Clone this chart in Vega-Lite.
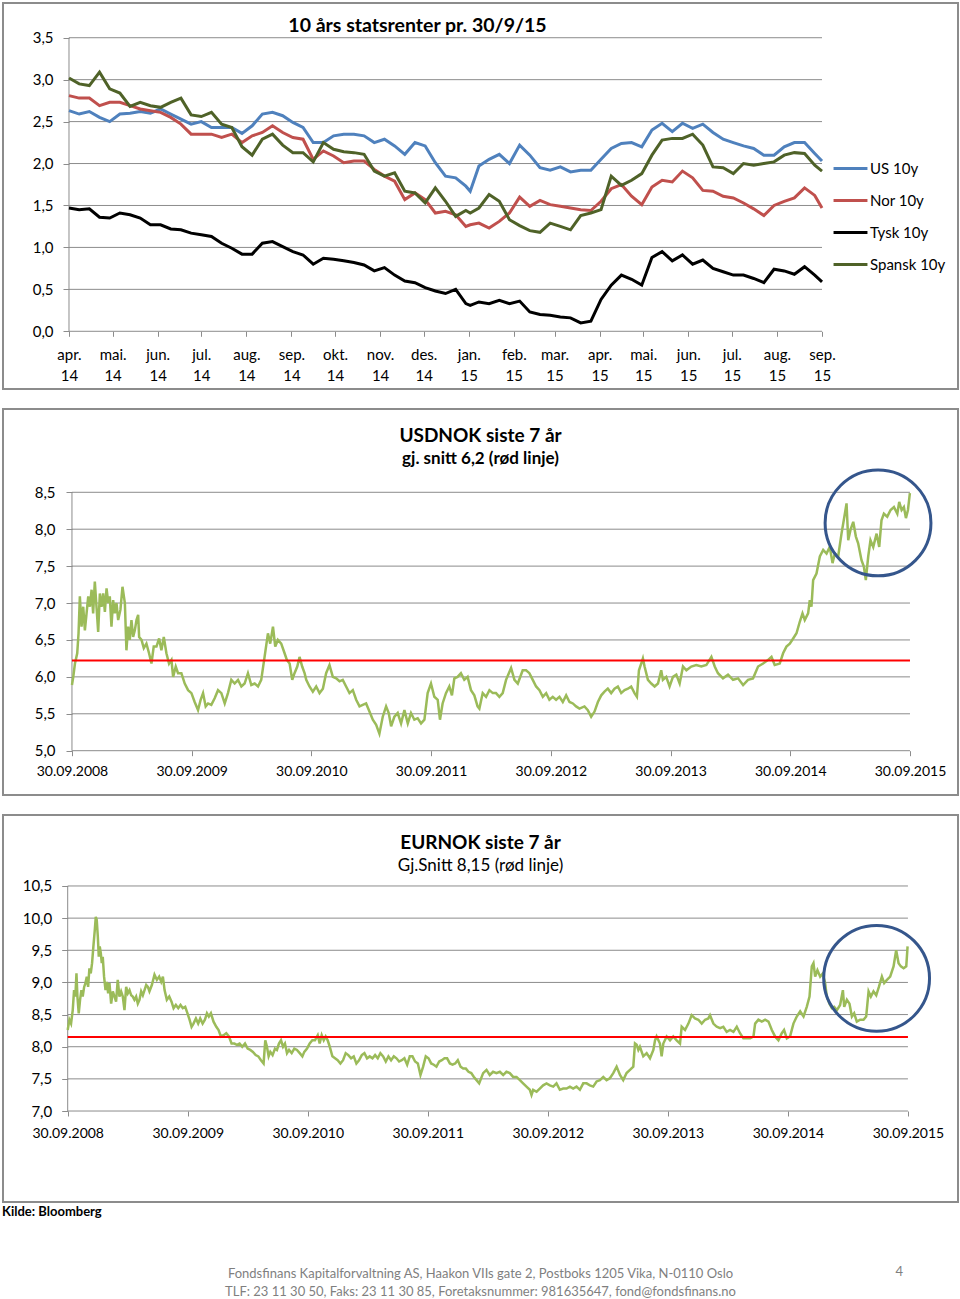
{
"$schema": "https://vega.github.io/schema/vega-lite/v6.json",
"background": "#ffffff",
"padding": {"left": 2, "top": 2, "right": 0, "bottom": 0},
"config": {
  "font": "Lato",
  "view": {"stroke": "#8c8c8c", "strokeWidth": 2},
  "axis": {"labelFont": "Lato", "labelColor": "#000000", "tickColor": "#8c8c8c", "domain": false, "grid": false},
  "legend": {"labelFont": "Lato", "labelColor": "#000000"}
},
"title": {"text": "4", "orient": "bottom", "anchor": "end", "offset": -33, "dx": -56, "fontSize": 13, "fontWeight": "normal", "color": "#7f7f7f", "font": "Lato"},
"vconcat": [{
  "title": {"text": ["Fondsfinans Kapitalforvaltning AS, Haakon VIIs gate 2, Postboks 1205 Vika, N-0110 Oslo", "TLF: 23 11 30 50, Faks: 23 11 30 85, Foretaksnummer: 981635647, fond@fondsfinans.no"], "orient": "bottom", "anchor": "middle", "offset": 49, "fontSize": 13, "fontWeight": "normal", "color": "#7f7f7f", "lineHeight": 18, "font": "Lato"},
  "vconcat": [{
    "title": {"text": "Kilde: Bloomberg", "orient": "bottom", "anchor": "start", "offset": 3, "fontSize": 13, "fontWeight": "bold", "color": "#000000", "font": "Lato"},
    "spacing": 18,
    "vconcat": [
{
  "width": 955, "height": 386,
  "title": {"text": "10 års statsrenter  pr. 30/9/15", "frame": "group", "anchor": "middle", "offset": -33, "dx": -63, "fontSize": 19.5, "fontWeight": "bold", "color": "#000000", "font": "Lato"},
  "layer": [
    {
      "data": {"values": [{"g": 0}, {"g": 0.5}, {"g": 1}, {"g": 1.5}, {"g": 2}, {"g": 2.5}, {"g": 3}, {"g": 3.5}]},
      "mark": {"type": "rule", "color": "#8c8c8c", "strokeWidth": 1},
      "encoding": {
        "y": {"field": "g", "type": "quantitative", "scale": {"domain": [-0.688, 3.914], "nice": false, "zero": false}},
        "x": {"datum": {"year": 2014, "month": 4, "date": 1, "utc": true}, "type": "temporal",
              "scale": {"type": "utc", "domain": [{"year": 2014, "month": 2, "date": 14, "hours": 14, "minutes": 24, "utc": true}, {"year": 2015, "month": 12, "date": 3, "hours": 13, "minutes": 12, "utc": true}], "nice": false}},
        "x2": {"datum": {"year": 2015, "month": 9, "date": 1, "utc": true}}
      }
    },
    {
      "data": {"values": [{"lo": 0, "hi": 3.5}]},
      "mark": {"type": "rule", "color": "#8c8c8c", "strokeWidth": 1},
      "encoding": {
        "x": {"datum": {"year": 2014, "month": 4, "date": 1, "utc": true}, "type": "temporal"},
        "y": {"field": "lo", "type": "quantitative"},
        "y2": {"field": "hi"}
      }
    },
    {
      "data": {"values": [
        {"d": "2014-04-01", "US 10y": 2.63, "Nor 10y": 2.81, "Tysk 10y": 1.47, "Spansk 10y": 3.02},
        {"d": "2014-04-08", "US 10y": 2.59, "Nor 10y": 2.78, "Tysk 10y": 1.45, "Spansk 10y": 2.95},
        {"d": "2014-04-15", "US 10y": 2.62, "Nor 10y": 2.78, "Tysk 10y": 1.46, "Spansk 10y": 2.93},
        {"d": "2014-04-22", "US 10y": 2.55, "Nor 10y": 2.69, "Tysk 10y": 1.36, "Spansk 10y": 3.09},
        {"d": "2014-04-29", "US 10y": 2.50, "Nor 10y": 2.73, "Tysk 10y": 1.35, "Spansk 10y": 2.89},
        {"d": "2014-05-06", "US 10y": 2.59, "Nor 10y": 2.73, "Tysk 10y": 1.41, "Spansk 10y": 2.84},
        {"d": "2014-05-13", "US 10y": 2.60, "Nor 10y": 2.69, "Tysk 10y": 1.39, "Spansk 10y": 2.68},
        {"d": "2014-05-20", "US 10y": 2.62, "Nor 10y": 2.65, "Tysk 10y": 1.35, "Spansk 10y": 2.73},
        {"d": "2014-05-27", "US 10y": 2.60, "Nor 10y": 2.63, "Tysk 10y": 1.27, "Spansk 10y": 2.69},
        {"d": "2014-06-03", "US 10y": 2.65, "Nor 10y": 2.61, "Tysk 10y": 1.27, "Spansk 10y": 2.67},
        {"d": "2014-06-10", "US 10y": 2.59, "Nor 10y": 2.55, "Tysk 10y": 1.22, "Spansk 10y": 2.73},
        {"d": "2014-06-17", "US 10y": 2.53, "Nor 10y": 2.47, "Tysk 10y": 1.21, "Spansk 10y": 2.78},
        {"d": "2014-06-24", "US 10y": 2.47, "Nor 10y": 2.35, "Tysk 10y": 1.17, "Spansk 10y": 2.58},
        {"d": "2014-07-01", "US 10y": 2.50, "Nor 10y": 2.35, "Tysk 10y": 1.15, "Spansk 10y": 2.56},
        {"d": "2014-07-08", "US 10y": 2.43, "Nor 10y": 2.35, "Tysk 10y": 1.13, "Spansk 10y": 2.61},
        {"d": "2014-07-15", "US 10y": 2.43, "Nor 10y": 2.31, "Tysk 10y": 1.05, "Spansk 10y": 2.47},
        {"d": "2014-07-22", "US 10y": 2.43, "Nor 10y": 2.35, "Tysk 10y": 0.99, "Spansk 10y": 2.43},
        {"d": "2014-07-29", "US 10y": 2.36, "Nor 10y": 2.25, "Tysk 10y": 0.92, "Spansk 10y": 2.20},
        {"d": "2014-08-05", "US 10y": 2.45, "Nor 10y": 2.33, "Tysk 10y": 0.92, "Spansk 10y": 2.10},
        {"d": "2014-08-12", "US 10y": 2.59, "Nor 10y": 2.37, "Tysk 10y": 1.05, "Spansk 10y": 2.29},
        {"d": "2014-08-19", "US 10y": 2.61, "Nor 10y": 2.45, "Tysk 10y": 1.07, "Spansk 10y": 2.35},
        {"d": "2014-08-26", "US 10y": 2.57, "Nor 10y": 2.37, "Tysk 10y": 1.01, "Spansk 10y": 2.22},
        {"d": "2014-09-02", "US 10y": 2.49, "Nor 10y": 2.31, "Tysk 10y": 0.95, "Spansk 10y": 2.13},
        {"d": "2014-09-09", "US 10y": 2.43, "Nor 10y": 2.29, "Tysk 10y": 0.91, "Spansk 10y": 2.13},
        {"d": "2014-09-16", "US 10y": 2.25, "Nor 10y": 2.05, "Tysk 10y": 0.80, "Spansk 10y": 2.02},
        {"d": "2014-09-23", "US 10y": 2.25, "Nor 10y": 2.15, "Tysk 10y": 0.87, "Spansk 10y": 2.25},
        {"d": "2014-09-30", "US 10y": 2.33, "Nor 10y": 2.09, "Tysk 10y": 0.86, "Spansk 10y": 2.17},
        {"d": "2014-10-07", "US 10y": 2.35, "Nor 10y": 2.01, "Tysk 10y": 0.84, "Spansk 10y": 2.14},
        {"d": "2014-10-14", "US 10y": 2.35, "Nor 10y": 2.03, "Tysk 10y": 0.82, "Spansk 10y": 2.13},
        {"d": "2014-10-21", "US 10y": 2.33, "Nor 10y": 2.03, "Tysk 10y": 0.79, "Spansk 10y": 2.11},
        {"d": "2014-10-28", "US 10y": 2.25, "Nor 10y": 1.93, "Tysk 10y": 0.72, "Spansk 10y": 1.91},
        {"d": "2014-11-04", "US 10y": 2.29, "Nor 10y": 1.85, "Tysk 10y": 0.76, "Spansk 10y": 1.85},
        {"d": "2014-11-11", "US 10y": 2.21, "Nor 10y": 1.79, "Tysk 10y": 0.67, "Spansk 10y": 1.89},
        {"d": "2014-11-18", "US 10y": 2.11, "Nor 10y": 1.57, "Tysk 10y": 0.60, "Spansk 10y": 1.67},
        {"d": "2014-11-25", "US 10y": 2.25, "Nor 10y": 1.65, "Tysk 10y": 0.58, "Spansk 10y": 1.65},
        {"d": "2014-12-02", "US 10y": 2.21, "Nor 10y": 1.57, "Tysk 10y": 0.52, "Spansk 10y": 1.53},
        {"d": "2014-12-09", "US 10y": 2.01, "Nor 10y": 1.41, "Tysk 10y": 0.48, "Spansk 10y": 1.71},
        {"d": "2014-12-16", "US 10y": 1.85, "Nor 10y": 1.43, "Tysk 10y": 0.45, "Spansk 10y": 1.55},
        {"d": "2014-12-23", "US 10y": 1.83, "Nor 10y": 1.39, "Tysk 10y": 0.50, "Spansk 10y": 1.37},
        {"d": "2014-12-30", "US 10y": 1.73, "Nor 10y": 1.25, "Tysk 10y": 0.33, "Spansk 10y": 1.44},
        {"d": "2015-01-02", "US 10y": 1.67, "Nor 10y": 1.27, "Tysk 10y": 0.31, "Spansk 10y": 1.41},
        {"d": "2015-01-08", "US 10y": 1.97, "Nor 10y": 1.29, "Tysk 10y": 0.35, "Spansk 10y": 1.47},
        {"d": "2015-01-15", "US 10y": 2.05, "Nor 10y": 1.23, "Tysk 10y": 0.33, "Spansk 10y": 1.63},
        {"d": "2015-01-22", "US 10y": 2.11, "Nor 10y": 1.31, "Tysk 10y": 0.37, "Spansk 10y": 1.55},
        {"d": "2015-01-29", "US 10y": 2.00, "Nor 10y": 1.41, "Tysk 10y": 0.33, "Spansk 10y": 1.33},
        {"d": "2015-02-05", "US 10y": 2.22, "Nor 10y": 1.60, "Tysk 10y": 0.36, "Spansk 10y": 1.26},
        {"d": "2015-02-12", "US 10y": 2.10, "Nor 10y": 1.49, "Tysk 10y": 0.23, "Spansk 10y": 1.20},
        {"d": "2015-02-19", "US 10y": 1.95, "Nor 10y": 1.56, "Tysk 10y": 0.20, "Spansk 10y": 1.18},
        {"d": "2015-02-26", "US 10y": 1.92, "Nor 10y": 1.51, "Tysk 10y": 0.19, "Spansk 10y": 1.29},
        {"d": "2015-03-05", "US 10y": 1.96, "Nor 10y": 1.49, "Tysk 10y": 0.17, "Spansk 10y": 1.25},
        {"d": "2015-03-12", "US 10y": 1.90, "Nor 10y": 1.47, "Tysk 10y": 0.16, "Spansk 10y": 1.21},
        {"d": "2015-03-19", "US 10y": 1.92, "Nor 10y": 1.45, "Tysk 10y": 0.10, "Spansk 10y": 1.38},
        {"d": "2015-03-26", "US 10y": 1.92, "Nor 10y": 1.44, "Tysk 10y": 0.12, "Spansk 10y": 1.41},
        {"d": "2015-04-02", "US 10y": 2.05, "Nor 10y": 1.55, "Tysk 10y": 0.38, "Spansk 10y": 1.45},
        {"d": "2015-04-09", "US 10y": 2.18, "Nor 10y": 1.70, "Tysk 10y": 0.55, "Spansk 10y": 1.85},
        {"d": "2015-04-16", "US 10y": 2.24, "Nor 10y": 1.75, "Tysk 10y": 0.67, "Spansk 10y": 1.74},
        {"d": "2015-04-23", "US 10y": 2.25, "Nor 10y": 1.61, "Tysk 10y": 0.62, "Spansk 10y": 1.80},
        {"d": "2015-04-30", "US 10y": 2.20, "Nor 10y": 1.51, "Tysk 10y": 0.55, "Spansk 10y": 1.88},
        {"d": "2015-05-07", "US 10y": 2.40, "Nor 10y": 1.72, "Tysk 10y": 0.88, "Spansk 10y": 2.10},
        {"d": "2015-05-14", "US 10y": 2.48, "Nor 10y": 1.80, "Tysk 10y": 0.95, "Spansk 10y": 2.28},
        {"d": "2015-05-21", "US 10y": 2.38, "Nor 10y": 1.78, "Tysk 10y": 0.84, "Spansk 10y": 2.30},
        {"d": "2015-05-28", "US 10y": 2.48, "Nor 10y": 1.91, "Tysk 10y": 0.91, "Spansk 10y": 2.30},
        {"d": "2015-06-04", "US 10y": 2.42, "Nor 10y": 1.83, "Tysk 10y": 0.80, "Spansk 10y": 2.35},
        {"d": "2015-06-11", "US 10y": 2.47, "Nor 10y": 1.68, "Tysk 10y": 0.85, "Spansk 10y": 2.22},
        {"d": "2015-06-18", "US 10y": 2.37, "Nor 10y": 1.67, "Tysk 10y": 0.75, "Spansk 10y": 1.96},
        {"d": "2015-06-25", "US 10y": 2.29, "Nor 10y": 1.61, "Tysk 10y": 0.71, "Spansk 10y": 1.95},
        {"d": "2015-07-02", "US 10y": 2.25, "Nor 10y": 1.59, "Tysk 10y": 0.67, "Spansk 10y": 1.88},
        {"d": "2015-07-09", "US 10y": 2.21, "Nor 10y": 1.53, "Tysk 10y": 0.67, "Spansk 10y": 2.00},
        {"d": "2015-07-16", "US 10y": 2.18, "Nor 10y": 1.46, "Tysk 10y": 0.63, "Spansk 10y": 1.98},
        {"d": "2015-07-23", "US 10y": 2.10, "Nor 10y": 1.38, "Tysk 10y": 0.58, "Spansk 10y": 2.00},
        {"d": "2015-07-30", "US 10y": 2.10, "Nor 10y": 1.50, "Tysk 10y": 0.74, "Spansk 10y": 2.02},
        {"d": "2015-08-06", "US 10y": 2.20, "Nor 10y": 1.55, "Tysk 10y": 0.72, "Spansk 10y": 2.10},
        {"d": "2015-08-13", "US 10y": 2.25, "Nor 10y": 1.59, "Tysk 10y": 0.68, "Spansk 10y": 2.13},
        {"d": "2015-08-20", "US 10y": 2.25, "Nor 10y": 1.71, "Tysk 10y": 0.77, "Spansk 10y": 2.12},
        {"d": "2015-08-27", "US 10y": 2.12, "Nor 10y": 1.62, "Tysk 10y": 0.67, "Spansk 10y": 1.98},
        {"d": "2015-09-01", "US 10y": 2.03, "Nor 10y": 1.47, "Tysk 10y": 0.59, "Spansk 10y": 1.91}
      ]},
      "transform": [{"fold": ["US 10y", "Nor 10y", "Tysk 10y", "Spansk 10y"], "as": ["serie", "rente"]}],
      "mark": {"type": "line", "strokeWidth": 3},
      "encoding": {
        "x": {"field": "d", "type": "temporal",
              "axis": {"title": null, "offset": -57.7, "tickSize": 5, "labelPadding": 11, "labelFontSize": 15, "labelLineHeight": 21, "labelOverlap": false, "labelFlush": false,
                       "values": [{"year": 2014, "month": 4, "date": 1, "utc": true}, {"year": 2014, "month": 5, "date": 1, "utc": true}, {"year": 2014, "month": 6, "date": 1, "utc": true}, {"year": 2014, "month": 7, "date": 1, "utc": true}, {"year": 2014, "month": 8, "date": 1, "utc": true}, {"year": 2014, "month": 9, "date": 1, "utc": true}, {"year": 2014, "month": 10, "date": 1, "utc": true}, {"year": 2014, "month": 11, "date": 1, "utc": true}, {"year": 2014, "month": 12, "date": 1, "utc": true}, {"year": 2015, "month": 1, "date": 1, "utc": true}, {"year": 2015, "month": 2, "date": 1, "utc": true}, {"year": 2015, "month": 3, "date": 1, "utc": true}, {"year": 2015, "month": 4, "date": 1, "utc": true}, {"year": 2015, "month": 5, "date": 1, "utc": true}, {"year": 2015, "month": 6, "date": 1, "utc": true}, {"year": 2015, "month": 7, "date": 1, "utc": true}, {"year": 2015, "month": 8, "date": 1, "utc": true}, {"year": 2015, "month": 9, "date": 1, "utc": true}],
                       "labelExpr": "[['jan.','feb.','mar.','apr.','mai.','jun.','jul.','aug.','sep.','okt.','nov.','des.'][utcmonth(datum.value)], utcFormat(datum.value, '%y')]"}},
        "y": {"field": "rente", "type": "quantitative",
              "axis": {"title": null, "values": [0, 0.5, 1, 1.5, 2, 2.5, 3, 3.5], "labelExpr": "replace(format(datum.value, '.1f'), '.', ',')", "offset": -66, "tickSize": 6, "labelPadding": 10, "labelFontSize": 15}},
        "color": {"field": "serie", "type": "nominal",
                  "scale": {"domain": ["US 10y", "Nor 10y", "Tysk 10y", "Spansk 10y"], "range": ["#4F81BD", "#C0504D", "#000000", "#4F6228"]},
                  "legend": {"orient": "none", "legendX": 829, "legendY": 147, "title": null, "symbolType": "stroke", "symbolStrokeWidth": 3, "symbolSize": 1150, "labelFontSize": 15, "labelOffset": 1, "rowPadding": 5}}
      }
    }
  ]
},
{
  "width": 955, "height": 386,
  "title": {"text": "USDNOK siste 7 år", "subtitle": "gj. snitt 6,2 (rød linje)", "frame": "group", "anchor": "middle", "offset": -58, "fontSize": 19, "fontWeight": "bold", "color": "#000000", "font": "Lato", "subtitleFont": "Lato", "subtitleFontSize": 17, "subtitleFontWeight": "bold", "subtitleColor": "#000000", "subtitlePadding": 5},
  "layer": [
    {
      "data": {"values": [{"g": 5}, {"g": 5.5}, {"g": 6}, {"g": 6.5}, {"g": 7}, {"g": 7.5}, {"g": 8}, {"g": 8.5}]},
      "mark": {"type": "rule", "color": "#8c8c8c", "strokeWidth": 1},
      "encoding": {
        "y": {"field": "g", "type": "quantitative", "scale": {"domain": [4.4, 9.628], "nice": false, "zero": false}},
        "x": {"datum": 2008.747, "type": "quantitative", "scale": {"domain": [2008.171, 2016.148], "nice": false, "zero": false}},
        "x2": {"datum": 2015.747}
      }
    },
    {
      "data": {"values": [{"lo": 5, "hi": 8.5}]},
      "mark": {"type": "rule", "color": "#8c8c8c", "strokeWidth": 1},
      "encoding": {
        "x": {"datum": 2008.747, "type": "quantitative"},
        "y": {"field": "lo", "type": "quantitative"},
        "y2": {"field": "hi"}
      }
    },
    {
      "data": {"values": [{"t":2008.747,"v":5.89},{"t":2008.758,"v":6.0},{"t":2008.772,"v":6.18},{"t":2008.791,"v":6.32},{"t":2008.802,"v":6.59},{"t":2008.813,"v":7.09},{"t":2008.827,"v":6.68},{"t":2008.841,"v":6.95},{"t":2008.855,"v":6.63},{"t":2008.869,"v":6.86},{"t":2008.883,"v":7.09},{"t":2008.897,"v":6.95},{"t":2008.911,"v":7.18},{"t":2008.924,"v":6.86},{"t":2008.938,"v":7.29},{"t":2008.952,"v":6.95},{"t":2008.966,"v":6.61},{"t":2008.98,"v":7.13},{"t":2008.994,"v":6.95},{"t":2009.008,"v":7.13},{"t":2009.022,"v":6.88},{"t":2009.036,"v":7.2},{"t":2009.05,"v":7.0},{"t":2009.063,"v":7.09},{"t":2009.077,"v":6.68},{"t":2009.091,"v":7.04},{"t":2009.105,"v":6.86},{"t":2009.119,"v":7.0},{"t":2009.133,"v":6.77},{"t":2009.152,"v":6.91},{"t":2009.169,"v":7.22},{"t":2009.189,"v":7.0},{"t":2009.202,"v":6.36},{"t":2009.216,"v":6.68},{"t":2009.23,"v":6.5},{"t":2009.244,"v":6.77},{"t":2009.258,"v":6.54},{"t":2009.272,"v":6.63},{"t":2009.286,"v":6.77},{"t":2009.3,"v":6.84},{"t":2009.308,"v":6.54},{"t":2009.328,"v":6.5},{"t":2009.347,"v":6.39},{"t":2009.369,"v":6.45},{"t":2009.391,"v":6.32},{"t":2009.411,"v":6.18},{"t":2009.43,"v":6.41},{"t":2009.453,"v":6.41},{"t":2009.475,"v":6.52},{"t":2009.494,"v":6.36},{"t":2009.514,"v":6.54},{"t":2009.536,"v":6.32},{"t":2009.558,"v":6.18},{"t":2009.578,"v":6.23},{"t":2009.592,"v":6.0},{"t":2009.614,"v":6.14},{"t":2009.633,"v":6.05},{"t":2009.661,"v":6.05},{"t":2009.689,"v":5.91},{"t":2009.717,"v":5.82},{"t":2009.745,"v":5.78},{"t":2009.772,"v":5.66},{"t":2009.8,"v":5.55},{"t":2009.822,"v":5.69},{"t":2009.842,"v":5.78},{"t":2009.864,"v":5.6},{"t":2009.884,"v":5.64},{"t":2009.911,"v":5.62},{"t":2009.939,"v":5.71},{"t":2009.967,"v":5.82},{"t":2009.995,"v":5.78},{"t":2010.023,"v":5.64},{"t":2010.05,"v":5.78},{"t":2010.078,"v":5.96},{"t":2010.106,"v":5.91},{"t":2010.134,"v":5.96},{"t":2010.162,"v":5.87},{"t":2010.189,"v":5.91},{"t":2010.217,"v":6.05},{"t":2010.245,"v":5.89},{"t":2010.273,"v":5.91},{"t":2010.301,"v":5.87},{"t":2010.328,"v":5.96},{"t":2010.356,"v":6.27},{"t":2010.384,"v":6.59},{"t":2010.403,"v":6.45},{"t":2010.426,"v":6.68},{"t":2010.445,"v":6.41},{"t":2010.467,"v":6.5},{"t":2010.495,"v":6.45},{"t":2010.523,"v":6.32},{"t":2010.542,"v":6.23},{"t":2010.565,"v":6.18},{"t":2010.587,"v":5.96},{"t":2010.606,"v":6.05},{"t":2010.629,"v":6.14},{"t":2010.648,"v":6.27},{"t":2010.67,"v":6.14},{"t":2010.69,"v":6.05},{"t":2010.704,"v":5.96},{"t":2010.731,"v":5.87},{"t":2010.759,"v":5.8},{"t":2010.787,"v":5.87},{"t":2010.815,"v":5.78},{"t":2010.843,"v":5.84},{"t":2010.87,"v":6.05},{"t":2010.898,"v":6.16},{"t":2010.926,"v":6.0},{"t":2010.954,"v":5.98},{"t":2010.982,"v":5.94},{"t":2011.009,"v":5.96},{"t":2011.037,"v":5.87},{"t":2011.065,"v":5.78},{"t":2011.093,"v":5.82},{"t":2011.121,"v":5.69},{"t":2011.149,"v":5.6},{"t":2011.176,"v":5.62},{"t":2011.204,"v":5.64},{"t":2011.232,"v":5.53},{"t":2011.26,"v":5.42},{"t":2011.288,"v":5.35},{"t":2011.315,"v":5.23},{"t":2011.343,"v":5.46},{"t":2011.371,"v":5.6},{"t":2011.393,"v":5.51},{"t":2011.413,"v":5.33},{"t":2011.44,"v":5.46},{"t":2011.468,"v":5.51},{"t":2011.496,"v":5.37},{"t":2011.524,"v":5.55},{"t":2011.552,"v":5.37},{"t":2011.579,"v":5.51},{"t":2011.607,"v":5.42},{"t":2011.635,"v":5.44},{"t":2011.663,"v":5.37},{"t":2011.691,"v":5.42},{"t":2011.718,"v":5.78},{"t":2011.746,"v":5.91},{"t":2011.774,"v":5.73},{"t":2011.802,"v":5.69},{"t":2011.821,"v":5.42},{"t":2011.843,"v":5.64},{"t":2011.871,"v":5.78},{"t":2011.899,"v":5.87},{"t":2011.921,"v":5.75},{"t":2011.941,"v":5.98},{"t":2011.968,"v":6.0},{"t":2011.996,"v":6.05},{"t":2012.024,"v":5.96},{"t":2012.052,"v":6.0},{"t":2012.08,"v":5.82},{"t":2012.108,"v":5.75},{"t":2012.135,"v":5.6},{"t":2012.15,"v":5.57},{"t":2012.178,"v":5.78},{"t":2012.206,"v":5.73},{"t":2012.234,"v":5.82},{"t":2012.262,"v":5.78},{"t":2012.289,"v":5.78},{"t":2012.317,"v":5.73},{"t":2012.345,"v":5.78},{"t":2012.373,"v":5.96},{"t":2012.415,"v":6.12},{"t":2012.443,"v":5.96},{"t":2012.471,"v":5.91},{"t":2012.512,"v":6.09},{"t":2012.54,"v":6.09},{"t":2012.568,"v":6.05},{"t":2012.596,"v":5.96},{"t":2012.624,"v":5.87},{"t":2012.652,"v":5.82},{"t":2012.68,"v":5.73},{"t":2012.708,"v":5.78},{"t":2012.735,"v":5.69},{"t":2012.763,"v":5.73},{"t":2012.791,"v":5.69},{"t":2012.819,"v":5.73},{"t":2012.847,"v":5.66},{"t":2012.875,"v":5.75},{"t":2012.903,"v":5.66},{"t":2012.931,"v":5.64},{"t":2012.958,"v":5.6},{"t":2012.986,"v":5.57},{"t":2013.028,"v":5.6},{"t":2013.056,"v":5.55},{"t":2013.084,"v":5.46},{"t":2013.112,"v":5.53},{"t":2013.14,"v":5.66},{"t":2013.168,"v":5.75},{"t":2013.195,"v":5.8},{"t":2013.223,"v":5.84},{"t":2013.251,"v":5.78},{"t":2013.279,"v":5.84},{"t":2013.307,"v":5.87},{"t":2013.335,"v":5.78},{"t":2013.363,"v":5.82},{"t":2013.391,"v":5.84},{"t":2013.418,"v":5.87},{"t":2013.446,"v":5.78},{"t":2013.466,"v":5.73},{"t":2013.483,"v":6.09},{"t":2013.502,"v":6.18},{"t":2013.516,"v":6.25},{"t":2013.53,"v":6.14},{"t":2013.558,"v":5.96},{"t":2013.586,"v":5.91},{"t":2013.614,"v":5.87},{"t":2013.642,"v":5.91},{"t":2013.669,"v":6.09},{"t":2013.683,"v":5.96},{"t":2013.711,"v":6.0},{"t":2013.739,"v":5.87},{"t":2013.767,"v":6.0},{"t":2013.795,"v":6.03},{"t":2013.823,"v":5.91},{"t":2013.851,"v":6.14},{"t":2013.879,"v":6.09},{"t":2013.92,"v":6.14},{"t":2013.962,"v":6.16},{"t":2014.004,"v":6.14},{"t":2014.046,"v":6.16},{"t":2014.088,"v":6.27},{"t":2014.116,"v":6.14},{"t":2014.143,"v":6.05},{"t":2014.185,"v":5.98},{"t":2014.227,"v":6.03},{"t":2014.269,"v":5.96},{"t":2014.311,"v":5.98},{"t":2014.353,"v":5.89},{"t":2014.394,"v":5.96},{"t":2014.436,"v":5.98},{"t":2014.478,"v":6.14},{"t":2014.52,"v":6.18},{"t":2014.562,"v":6.23},{"t":2014.59,"v":6.27},{"t":2014.617,"v":6.16},{"t":2014.659,"v":6.18},{"t":2014.687,"v":6.32},{"t":2014.715,"v":6.41},{"t":2014.743,"v":6.45},{"t":2014.771,"v":6.52},{"t":2014.799,"v":6.59},{"t":2014.827,"v":6.75},{"t":2014.849,"v":6.86},{"t":2014.868,"v":6.77},{"t":2014.896,"v":6.86},{"t":2014.91,"v":7.04},{"t":2014.924,"v":6.95},{"t":2014.938,"v":7.31},{"t":2014.966,"v":7.4},{"t":2014.994,"v":7.63},{"t":2015.022,"v":7.72},{"t":2015.05,"v":7.67},{"t":2015.077,"v":7.76},{"t":2015.1,"v":7.54},{"t":2015.119,"v":7.67},{"t":2015.147,"v":7.63},{"t":2015.175,"v":7.94},{"t":2015.203,"v":8.21},{"t":2015.217,"v":8.35},{"t":2015.231,"v":7.85},{"t":2015.25,"v":7.99},{"t":2015.273,"v":8.1},{"t":2015.295,"v":7.9},{"t":2015.314,"v":7.81},{"t":2015.342,"v":7.58},{"t":2015.362,"v":7.49},{"t":2015.378,"v":7.31},{"t":2015.398,"v":7.63},{"t":2015.417,"v":7.85},{"t":2015.44,"v":7.76},{"t":2015.468,"v":7.94},{"t":2015.49,"v":7.76},{"t":2015.509,"v":8.12},{"t":2015.529,"v":8.21},{"t":2015.557,"v":8.17},{"t":2015.585,"v":8.26},{"t":2015.613,"v":8.3},{"t":2015.641,"v":8.21},{"t":2015.657,"v":8.37},{"t":2015.677,"v":8.26},{"t":2015.696,"v":8.3},{"t":2015.713,"v":8.15},{"t":2015.73,"v":8.26},{"t":2015.746,"v":8.49}]},
      "mark": {"type": "line", "color": "#9BBB59", "strokeWidth": 2.5},
      "encoding": {
        "x": {"field": "t", "type": "quantitative",
              "axis": {"title": null, "values": [2008.747, 2009.747, 2010.747, 2011.747, 2012.747, 2013.747, 2014.747, 2015.747], "labelExpr": "'30.09.' + floor(datum.value)", "offset": -44.3, "tickSize": 5, "labelPadding": 9, "labelFontSize": 14, "labelOverlap": false, "labelFlush": false}},
        "y": {"field": "v", "type": "quantitative",
              "axis": {"title": null, "values": [5, 5.5, 6, 6.5, 7, 7.5, 8, 8.5], "labelExpr": "replace(format(datum.value, '.1f'), '.', ',')", "offset": -69, "tickSize": 6, "labelPadding": 11, "labelFontSize": 15}}
      }
    },
    {
      "data": {"values": [{"snitt": 6.22}]},
      "mark": {"type": "rule", "color": "#FF0000", "strokeWidth": 2},
      "encoding": {
        "y": {"field": "snitt", "type": "quantitative"},
        "x": {"datum": 2008.747, "type": "quantitative"},
        "x2": {"datum": 2015.747}
      }
    },
    {
      "data": {"values": [{"t": 2015.48, "v": 8.085}]},
      "mark": {"type": "point", "shape": "circle", "filled": false, "size": 11200, "stroke": "#35568C", "strokeWidth": 3, "opacity": 1},
      "encoding": {
        "x": {"field": "t", "type": "quantitative"},
        "y": {"field": "v", "type": "quantitative"}
      }
    }
  ]
},
{
  "width": 955, "height": 387,
  "title": {"text": "EURNOK siste 7 år", "subtitle": "Gj.Snitt 8,15 (rød linje)", "frame": "group", "anchor": "middle", "offset": -59, "fontSize": 19, "fontWeight": "bold", "color": "#000000", "font": "Lato", "subtitleFont": "Lato", "subtitleFontSize": 17, "subtitleFontWeight": "normal", "subtitleColor": "#000000", "subtitlePadding": 5},
  "layer": [
    {
      "data": {"values": [{"g": 7}, {"g": 7.5}, {"g": 8}, {"g": 8.5}, {"g": 9}, {"g": 9.5}, {"g": 10}, {"g": 10.5}]},
      "mark": {"type": "rule", "color": "#8c8c8c", "strokeWidth": 1},
      "encoding": {
        "y": {"field": "g", "type": "quantitative", "scale": {"domain": [5.585, 11.604], "nice": false, "zero": false}},
        "x": {"datum": 2008.747, "type": "quantitative", "scale": {"domain": [2008.208, 2016.164], "nice": false, "zero": false}},
        "x2": {"datum": 2015.747}
      }
    },
    {
      "data": {"values": [{"lo": 7, "hi": 10.5}]},
      "mark": {"type": "rule", "color": "#8c8c8c", "strokeWidth": 1},
      "encoding": {
        "x": {"datum": 2008.747, "type": "quantitative"},
        "y": {"field": "lo", "type": "quantitative"},
        "y2": {"field": "hi"}
      }
    },
    {
      "data": {"values": [{"t":2008.747,"v":8.26},{"t":2008.761,"v":8.42},{"t":2008.775,"v":8.36},{"t":2008.789,"v":8.57},{"t":2008.8,"v":8.88},{"t":2008.811,"v":8.78},{"t":2008.82,"v":9.14},{"t":2008.828,"v":8.78},{"t":2008.839,"v":8.52},{"t":2008.85,"v":8.73},{"t":2008.861,"v":8.88},{"t":2008.872,"v":8.78},{"t":2008.884,"v":8.93},{"t":2008.895,"v":8.99},{"t":2008.906,"v":9.09},{"t":2008.917,"v":8.93},{"t":2008.928,"v":9.22},{"t":2008.939,"v":9.14},{"t":2008.95,"v":9.3},{"t":2008.961,"v":9.56},{"t":2008.973,"v":9.82},{"t":2008.981,"v":10.02},{"t":2008.989,"v":9.97},{"t":2008.998,"v":9.71},{"t":2009.006,"v":9.4},{"t":2009.014,"v":9.56},{"t":2009.023,"v":9.45},{"t":2009.031,"v":9.3},{"t":2009.039,"v":9.4},{"t":2009.05,"v":9.09},{"t":2009.062,"v":8.88},{"t":2009.073,"v":9.01},{"t":2009.084,"v":8.83},{"t":2009.095,"v":8.99},{"t":2009.109,"v":8.67},{"t":2009.123,"v":8.86},{"t":2009.137,"v":8.78},{"t":2009.15,"v":8.7},{"t":2009.164,"v":9.04},{"t":2009.178,"v":8.78},{"t":2009.192,"v":8.86},{"t":2009.206,"v":8.78},{"t":2009.22,"v":8.57},{"t":2009.234,"v":8.93},{"t":2009.248,"v":8.83},{"t":2009.262,"v":8.88},{"t":2009.276,"v":8.8},{"t":2009.289,"v":8.78},{"t":2009.303,"v":8.73},{"t":2009.317,"v":8.78},{"t":2009.331,"v":8.67},{"t":2009.345,"v":8.73},{"t":2009.359,"v":8.86},{"t":2009.373,"v":8.8},{"t":2009.387,"v":8.88},{"t":2009.401,"v":8.96},{"t":2009.415,"v":8.93},{"t":2009.428,"v":8.86},{"t":2009.448,"v":8.96},{"t":2009.47,"v":9.12},{"t":2009.49,"v":9.04},{"t":2009.509,"v":9.09},{"t":2009.526,"v":9.01},{"t":2009.54,"v":9.09},{"t":2009.554,"v":8.88},{"t":2009.573,"v":8.73},{"t":2009.593,"v":8.78},{"t":2009.612,"v":8.7},{"t":2009.629,"v":8.6},{"t":2009.648,"v":8.65},{"t":2009.668,"v":8.6},{"t":2009.687,"v":8.65},{"t":2009.706,"v":8.6},{"t":2009.726,"v":8.62},{"t":2009.745,"v":8.52},{"t":2009.762,"v":8.42},{"t":2009.779,"v":8.31},{"t":2009.795,"v":8.36},{"t":2009.815,"v":8.44},{"t":2009.834,"v":8.36},{"t":2009.851,"v":8.44},{"t":2009.871,"v":8.36},{"t":2009.89,"v":8.42},{"t":2009.907,"v":8.52},{"t":2009.923,"v":8.47},{"t":2009.94,"v":8.52},{"t":2009.962,"v":8.39},{"t":2009.985,"v":8.31},{"t":2010.004,"v":8.26},{"t":2010.023,"v":8.16},{"t":2010.046,"v":8.18},{"t":2010.068,"v":8.21},{"t":2010.09,"v":8.16},{"t":2010.112,"v":8.05},{"t":2010.135,"v":8.05},{"t":2010.157,"v":8.03},{"t":2010.179,"v":8.05},{"t":2010.201,"v":8.0},{"t":2010.224,"v":8.05},{"t":2010.246,"v":7.97},{"t":2010.268,"v":7.95},{"t":2010.29,"v":7.92},{"t":2010.313,"v":7.87},{"t":2010.335,"v":7.85},{"t":2010.357,"v":7.79},{"t":2010.379,"v":7.74},{"t":2010.393,"v":8.1},{"t":2010.407,"v":8.0},{"t":2010.421,"v":7.85},{"t":2010.435,"v":7.92},{"t":2010.454,"v":7.87},{"t":2010.474,"v":7.97},{"t":2010.49,"v":7.95},{"t":2010.507,"v":8.05},{"t":2010.524,"v":8.1},{"t":2010.541,"v":8.0},{"t":2010.557,"v":8.05},{"t":2010.574,"v":7.9},{"t":2010.591,"v":7.95},{"t":2010.613,"v":7.9},{"t":2010.635,"v":7.97},{"t":2010.657,"v":7.95},{"t":2010.68,"v":7.9},{"t":2010.702,"v":7.85},{"t":2010.718,"v":7.92},{"t":2010.741,"v":7.97},{"t":2010.763,"v":8.05},{"t":2010.785,"v":8.1},{"t":2010.807,"v":8.1},{"t":2010.83,"v":8.18},{"t":2010.846,"v":8.05},{"t":2010.863,"v":8.18},{"t":2010.88,"v":8.1},{"t":2010.896,"v":8.16},{"t":2010.913,"v":8.1},{"t":2010.93,"v":8.0},{"t":2010.952,"v":7.85},{"t":2010.974,"v":7.82},{"t":2010.996,"v":7.79},{"t":2011.019,"v":7.74},{"t":2011.041,"v":7.79},{"t":2011.063,"v":7.9},{"t":2011.085,"v":7.87},{"t":2011.108,"v":7.82},{"t":2011.13,"v":7.85},{"t":2011.152,"v":7.74},{"t":2011.174,"v":7.79},{"t":2011.197,"v":7.87},{"t":2011.219,"v":7.9},{"t":2011.241,"v":7.82},{"t":2011.263,"v":7.85},{"t":2011.286,"v":7.82},{"t":2011.308,"v":7.87},{"t":2011.33,"v":7.82},{"t":2011.352,"v":7.9},{"t":2011.375,"v":7.85},{"t":2011.397,"v":7.77},{"t":2011.419,"v":7.85},{"t":2011.441,"v":7.79},{"t":2011.464,"v":7.85},{"t":2011.486,"v":7.82},{"t":2011.508,"v":7.77},{"t":2011.53,"v":7.79},{"t":2011.552,"v":7.82},{"t":2011.575,"v":7.72},{"t":2011.597,"v":7.85},{"t":2011.619,"v":7.85},{"t":2011.641,"v":7.77},{"t":2011.664,"v":7.74},{"t":2011.686,"v":7.56},{"t":2011.708,"v":7.69},{"t":2011.73,"v":7.85},{"t":2011.753,"v":7.82},{"t":2011.775,"v":7.74},{"t":2011.797,"v":7.72},{"t":2011.819,"v":7.69},{"t":2011.842,"v":7.77},{"t":2011.864,"v":7.79},{"t":2011.886,"v":7.82},{"t":2011.908,"v":7.82},{"t":2011.931,"v":7.74},{"t":2011.953,"v":7.72},{"t":2011.975,"v":7.74},{"t":2011.997,"v":7.79},{"t":2012.02,"v":7.69},{"t":2012.042,"v":7.66},{"t":2012.064,"v":7.66},{"t":2012.086,"v":7.61},{"t":2012.109,"v":7.59},{"t":2012.131,"v":7.53},{"t":2012.153,"v":7.48},{"t":2012.175,"v":7.43},{"t":2012.208,"v":7.59},{"t":2012.236,"v":7.64},{"t":2012.263,"v":7.56},{"t":2012.291,"v":7.61},{"t":2012.319,"v":7.59},{"t":2012.347,"v":7.61},{"t":2012.375,"v":7.56},{"t":2012.402,"v":7.61},{"t":2012.43,"v":7.59},{"t":2012.458,"v":7.53},{"t":2012.486,"v":7.53},{"t":2012.514,"v":7.48},{"t":2012.541,"v":7.43},{"t":2012.569,"v":7.38},{"t":2012.597,"v":7.33},{"t":2012.611,"v":7.25},{"t":2012.625,"v":7.33},{"t":2012.653,"v":7.3},{"t":2012.68,"v":7.35},{"t":2012.708,"v":7.4},{"t":2012.736,"v":7.43},{"t":2012.764,"v":7.4},{"t":2012.792,"v":7.38},{"t":2012.819,"v":7.43},{"t":2012.847,"v":7.33},{"t":2012.875,"v":7.35},{"t":2012.903,"v":7.35},{"t":2012.931,"v":7.38},{"t":2012.958,"v":7.35},{"t":2012.986,"v":7.38},{"t":2013.014,"v":7.33},{"t":2013.042,"v":7.43},{"t":2013.07,"v":7.43},{"t":2013.097,"v":7.4},{"t":2013.125,"v":7.38},{"t":2013.153,"v":7.46},{"t":2013.181,"v":7.48},{"t":2013.209,"v":7.53},{"t":2013.236,"v":7.48},{"t":2013.264,"v":7.51},{"t":2013.292,"v":7.59},{"t":2013.32,"v":7.69},{"t":2013.348,"v":7.56},{"t":2013.375,"v":7.48},{"t":2013.403,"v":7.59},{"t":2013.431,"v":7.64},{"t":2013.459,"v":7.69},{"t":2013.473,"v":8.05},{"t":2013.487,"v":8.03},{"t":2013.501,"v":7.95},{"t":2013.514,"v":8.0},{"t":2013.542,"v":7.85},{"t":2013.57,"v":7.9},{"t":2013.598,"v":7.82},{"t":2013.626,"v":7.95},{"t":2013.64,"v":8.1},{"t":2013.653,"v":8.16},{"t":2013.681,"v":8.05},{"t":2013.695,"v":7.85},{"t":2013.709,"v":8.05},{"t":2013.737,"v":8.16},{"t":2013.765,"v":8.1},{"t":2013.792,"v":8.16},{"t":2013.82,"v":8.1},{"t":2013.848,"v":8.05},{"t":2013.862,"v":8.31},{"t":2013.89,"v":8.26},{"t":2013.918,"v":8.36},{"t":2013.945,"v":8.49},{"t":2013.973,"v":8.44},{"t":2014.001,"v":8.42},{"t":2014.029,"v":8.36},{"t":2014.057,"v":8.42},{"t":2014.084,"v":8.44},{"t":2014.098,"v":8.49},{"t":2014.126,"v":8.36},{"t":2014.154,"v":8.31},{"t":2014.182,"v":8.29},{"t":2014.209,"v":8.31},{"t":2014.237,"v":8.23},{"t":2014.265,"v":8.26},{"t":2014.293,"v":8.23},{"t":2014.321,"v":8.31},{"t":2014.348,"v":8.21},{"t":2014.376,"v":8.13},{"t":2014.404,"v":8.13},{"t":2014.432,"v":8.13},{"t":2014.46,"v":8.16},{"t":2014.474,"v":8.36},{"t":2014.501,"v":8.42},{"t":2014.529,"v":8.39},{"t":2014.557,"v":8.42},{"t":2014.585,"v":8.39},{"t":2014.613,"v":8.26},{"t":2014.64,"v":8.16},{"t":2014.668,"v":8.1},{"t":2014.696,"v":8.21},{"t":2014.715,"v":8.26},{"t":2014.738,"v":8.13},{"t":2014.765,"v":8.16},{"t":2014.793,"v":8.36},{"t":2014.821,"v":8.47},{"t":2014.849,"v":8.55},{"t":2014.877,"v":8.47},{"t":2014.904,"v":8.62},{"t":2014.927,"v":8.78},{"t":2014.946,"v":9.25},{"t":2014.96,"v":9.3},{"t":2014.974,"v":9.09},{"t":2014.993,"v":9.19},{"t":2015.016,"v":9.09},{"t":2015.038,"v":9.14},{"t":2015.057,"v":8.99},{"t":2015.071,"v":8.78},{"t":2015.093,"v":8.67},{"t":2015.113,"v":8.6},{"t":2015.132,"v":8.62},{"t":2015.155,"v":8.57},{"t":2015.182,"v":8.65},{"t":2015.205,"v":8.88},{"t":2015.216,"v":8.62},{"t":2015.238,"v":8.73},{"t":2015.26,"v":8.67},{"t":2015.28,"v":8.47},{"t":2015.299,"v":8.52},{"t":2015.321,"v":8.39},{"t":2015.349,"v":8.42},{"t":2015.377,"v":8.42},{"t":2015.399,"v":8.47},{"t":2015.419,"v":8.86},{"t":2015.438,"v":8.78},{"t":2015.46,"v":8.86},{"t":2015.483,"v":8.8},{"t":2015.505,"v":8.93},{"t":2015.53,"v":9.09},{"t":2015.549,"v":8.99},{"t":2015.572,"v":9.04},{"t":2015.599,"v":9.09},{"t":2015.627,"v":9.25},{"t":2015.649,"v":9.5},{"t":2015.669,"v":9.3},{"t":2015.688,"v":9.25},{"t":2015.711,"v":9.22},{"t":2015.733,"v":9.25},{"t":2015.744,"v":9.56}]},
      "mark": {"type": "line", "color": "#9BBB59", "strokeWidth": 2.5},
      "encoding": {
        "x": {"field": "t", "type": "quantitative",
              "axis": {"title": null, "values": [2008.747, 2009.747, 2010.747, 2011.747, 2012.747, 2013.747, 2014.747, 2015.747], "labelExpr": "'30.09.' + floor(datum.value)", "offset": -91, "tickSize": 5, "labelPadding": 10, "labelFontSize": 14, "labelOverlap": false, "labelFlush": false}},
        "y": {"field": "v", "type": "quantitative",
              "axis": {"title": null, "values": [7, 7.5, 8, 8.5, 9, 9.5, 10, 10.5], "labelExpr": "replace(format(datum.value, '.1f'), '.', ',')", "offset": -64.7, "tickSize": 6, "labelPadding": 10, "labelFontSize": 15}}
      }
    },
    {
      "data": {"values": [{"snitt": 8.15}]},
      "mark": {"type": "rule", "color": "#FF0000", "strokeWidth": 2},
      "encoding": {
        "y": {"field": "snitt", "type": "quantitative"},
        "x": {"datum": 2008.747, "type": "quantitative"},
        "x2": {"datum": 2015.747}
      }
    },
    {
      "data": {"values": [{"t": 2015.486, "v": 9.064}]},
      "mark": {"type": "point", "shape": "circle", "filled": false, "size": 11200, "stroke": "#35568C", "strokeWidth": 3, "opacity": 1},
      "encoding": {
        "x": {"field": "t", "type": "quantitative"},
        "y": {"field": "v", "type": "quantitative"}
      }
    }
  ]
}
    ]
  }]
}]
}
